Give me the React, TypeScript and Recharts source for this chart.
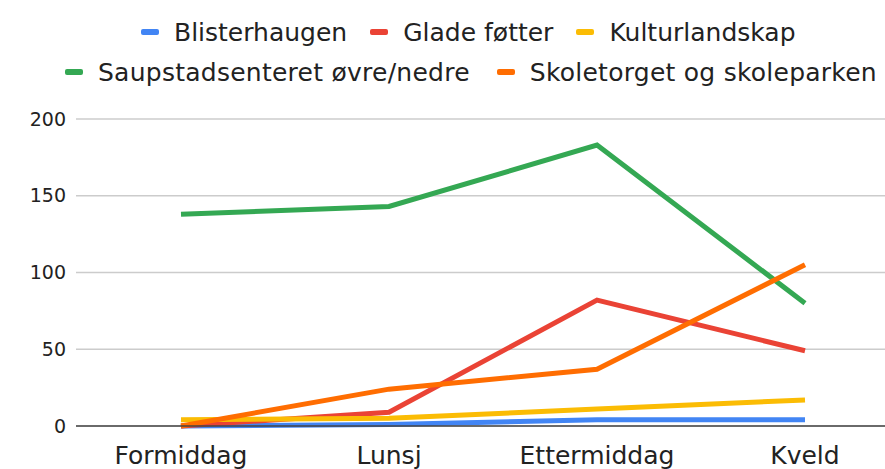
import React from 'react';
import { LineChart, Line, XAxis, YAxis, CartesianGrid, Legend } from 'recharts';

const categories = ['Formiddag', 'Lunsj', 'Ettermiddag', 'Kveld'];
const blisterhaugen = [0, 1, 4, 4];
const gladeFotter = [0, 9, 82, 49];
const kulturlandskap = [4, 5, 11, 17];
const saupstadsenteret = [138, 143, 183, 80];
const skoletorget = [0, 24, 37, 105];
const yTicks = [0, 50, 100, 150, 200];

const series = [
  { key: 'Blisterhaugen', values: blisterhaugen, color: '#4285F4' },
  { key: 'Glade føtter', values: gladeFotter, color: '#EA4335' },
  { key: 'Kulturlandskap', values: kulturlandskap, color: '#FBBC04' },
  { key: 'Saupstadsenteret øvre/nedre', values: saupstadsenteret, color: '#34A853' },
  { key: 'Skoletorget og skoleparken', values: skoletorget, color: '#FF6D01' },
];

const data = categories.map((c, i) => {
  const row: Record<string, string | number> = { name: c };
  series.forEach((s) => {
    row[s.key] = s.values[i];
  });
  return row;
});

const legendRows = [series.slice(0, 3), series.slice(3)];
const rowStart = [141, 65];
const rowGap = [23, 27];
const rowSpacing = [0, 0.25];

const FONT = '"DejaVu Sans", Verdana, sans-serif';

const LegendContent = () => (
  <div style={{ fontFamily: FONT, fontSize: 25, color: '#222', whiteSpace: 'nowrap' }}>
    {legendRows.map((row, ri) => (
      <div
        key={ri}
        style={{
          display: 'flex',
          justifyContent: 'flex-start',
          height: 40,
          alignItems: 'center',
          paddingLeft: rowStart[ri],
          letterSpacing: rowSpacing[ri],
        }}
      >
        {row.map((s, i) => (
          <div
            key={s.key}
            style={{
              display: 'flex',
              alignItems: 'center',
              marginRight: i < row.length - 1 ? rowGap[ri] : 0,
              flexShrink: 0,
            }}
          >
            <span
              style={{
                display: 'inline-block',
                width: 18,
                height: 6,
                borderRadius: 2,
                background: s.color,
                marginRight: 15,
              }}
            />
            <span>{s.key}</span>
          </div>
        ))}
      </div>
    ))}
  </div>
);

export default function App() {
  return (
    <div style={{ position: 'absolute', left: 0, top: 0, background: '#fff' }}>
      <LineChart
        width={885}
        height={469}
        data={data}
        margin={{ top: 39, right: 0, bottom: 0, left: 0 }}
      >
        <CartesianGrid vertical={false} stroke="#cccccc" strokeWidth={1.5} />
        <XAxis
          dataKey="name"
          height={43}
          padding={{ left: 105, right: 80 }}
          tickLine={false}
          tickSize={0}
          tickMargin={20}
          axisLine={{ stroke: '#444', strokeWidth: 1.5 }}
          tick={{ fill: '#222', fontSize: 25, fontFamily: FONT }}
          interval={0}
        />
        <YAxis
          width={76}
          domain={[0, 200]}
          ticks={yTicks}
          axisLine={false}
          tickLine={false}
          tickSize={0}
          tickMargin={10}
          tick={{ fill: '#222', fontSize: 19, fontFamily: FONT }}
        />
        <Legend
          verticalAlign="top"
          content={<LegendContent />}
          wrapperStyle={{ top: 12, left: 0, width: 885 }}
        />
        {series.map((s) => (
          <Line
            key={s.key}
            type="linear"
            dataKey={s.key}
            stroke={s.color}
            strokeWidth={5}
            dot={false}
            activeDot={false}
            isAnimationActive={false}
          />
        ))}
      </LineChart>
    </div>
  );
}
